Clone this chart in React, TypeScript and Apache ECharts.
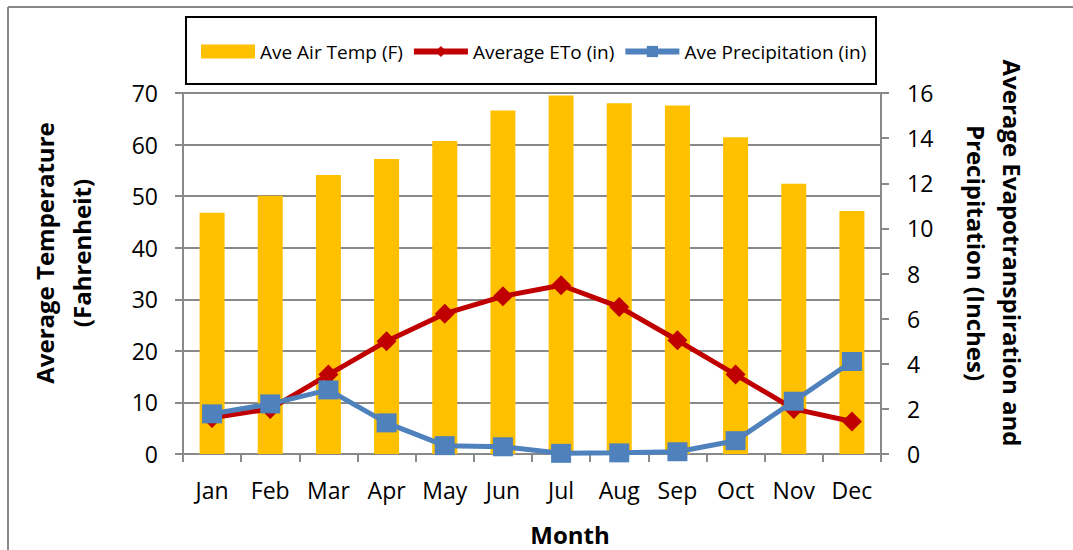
import React, { useEffect, useRef } from 'react';
import * as echarts from 'echarts';

const months = ['Jan', 'Feb', 'Mar', 'Apr', 'May', 'Jun', 'Jul', 'Aug', 'Sep', 'Oct', 'Nov', 'Dec'];
const airTemp = [46.8, 50.1, 54.1, 57.2, 60.7, 66.6, 69.5, 68.0, 67.6, 61.4, 52.4, 47.1];
const eto = [1.6, 2.0, 3.52, 5.0, 6.22, 6.99, 7.48, 6.52, 5.04, 3.52, 2.0, 1.44];
const precip = [1.78, 2.22, 2.84, 1.38, 0.37, 0.32, 0.03, 0.05, 0.1, 0.59, 2.34, 4.1];

const seriesNames = ['Ave Air Temp (F)', 'Average ETo (in)', 'Ave Precipitation (in)'];
const leftTitle = 'Average Temperature\n(Fahrenheit)';
const rightTitle = 'Average Evapotranspiration and\nPrecipitation (Inches)';
const xTitle = 'Month';

const FONT = 'Open Sans';
const GRID = '#898989';

export default function App() {
  const ref = useRef<HTMLDivElement>(null);
  useEffect(() => {
    if (!ref.current) return;
    const chart = echarts.init(ref.current, null, { renderer: 'svg' });
    chart.setOption({
      animation: false,
      backgroundColor: '#fff',
      textStyle: { fontFamily: FONT },
      grid: { left: 183, right: 192, top: 93, bottom: 96, containLabel: false },
      legend: {
        data: [
          { name: seriesNames[0], icon: 'rect' },
          { name: seriesNames[1], lineStyle: { width: 6 } },
          { name: seriesNames[2], lineStyle: { width: 6 } },
        ],
        left: 201,
        top: 42,
        padding: 0,
        itemWidth: 54,
        itemHeight: 14,
        itemGap: 8,
        textStyle: { fontFamily: FONT, fontSize: 19, color: '#000' },
      },
      xAxis: {
        type: 'category',
        data: months,
        boundaryGap: true,
        axisLine: { show: true, lineStyle: { color: GRID, width: 2 } },
        axisTick: { show: true, length: 8, interval: 0, lineStyle: { color: GRID, width: 2 } },
        axisLabel: { fontFamily: FONT, fontSize: 23, color: '#000', margin: 24, interval: 0 },
      },
      yAxis: [
        {
          type: 'value',
          min: 0,
          max: 70,
          interval: 10,
          position: 'left',
          axisLine: { show: true, lineStyle: { color: GRID, width: 2 } },
          axisTick: { show: true, length: 8, lineStyle: { color: GRID, width: 2 } },
          splitLine: { show: true, lineStyle: { color: GRID, width: 2 } },
          axisLabel: { fontFamily: FONT, fontSize: 23, color: '#000', margin: 25 },
        },
        {
          type: 'value',
          min: 0,
          max: 16,
          interval: 2,
          position: 'right',
          axisLine: { show: true, lineStyle: { color: GRID, width: 2 } },
          axisTick: { show: true, length: 8, lineStyle: { color: GRID, width: 2 } },
          splitLine: { show: false },
          axisLabel: { fontFamily: FONT, fontSize: 23, color: '#000', margin: 26 },
        },
      ],
      series: [
        {
          name: seriesNames[0],
          type: 'bar',
          data: airTemp,
          yAxisIndex: 0,
          barWidth: 25,
          itemStyle: { color: '#FFC000' },
        },
        {
          name: seriesNames[1],
          type: 'line',
          data: eto,
          yAxisIndex: 1,
          symbol: 'diamond',
          symbolSize: 20,
          lineStyle: { color: '#C00000', width: 5 },
          itemStyle: { color: '#C00000' },
        },
        {
          name: seriesNames[2],
          type: 'line',
          data: precip,
          yAxisIndex: 1,
          symbol: 'rect',
          symbolSize: [20, 19],
          lineStyle: { color: '#4F81BD', width: 5 },
          itemStyle: { color: '#4F81BD' },
        },
      ],
      graphic: [
        { type: 'line', shape: { x1: 8, y1: 7, x2: 1073, y2: 7 }, style: { stroke: GRID, lineWidth: 2 } },
        { type: 'line', shape: { x1: 8, y1: 7, x2: 8, y2: 550 }, style: { stroke: GRID, lineWidth: 2 } },
        { type: 'rect', shape: { x: 186, y: 17, width: 690, height: 67 }, style: { stroke: '#000', lineWidth: 2, fill: 'none' } },
        {
          type: 'text', x: 63, y: 253, rotation: Math.PI / 2,
          style: { text: leftTitle, font: `bold 24px "${FONT}"`, textAlign: 'center', textVerticalAlign: 'middle', lineHeight: 37, fill: '#000' },
        },
        {
          type: 'text', x: 994, y: 253, rotation: -Math.PI / 2,
          style: { text: rightTitle, font: `bold 24px "${FONT}"`, textAlign: 'center', textVerticalAlign: 'middle', lineHeight: 36, fill: '#000' },
        },
        {
          type: 'text', x: 570, y: 534,
          style: { text: xTitle, font: `bold 24px "${FONT}"`, textAlign: 'center', textVerticalAlign: 'middle', lineHeight: 24, fill: '#000' },
        },
      ],
    });
    return () => chart.dispose();
  }, []);
  return <div ref={ref} style={{ position: 'absolute', left: 0, top: 0, width: 1073, height: 550 }} />;
}
